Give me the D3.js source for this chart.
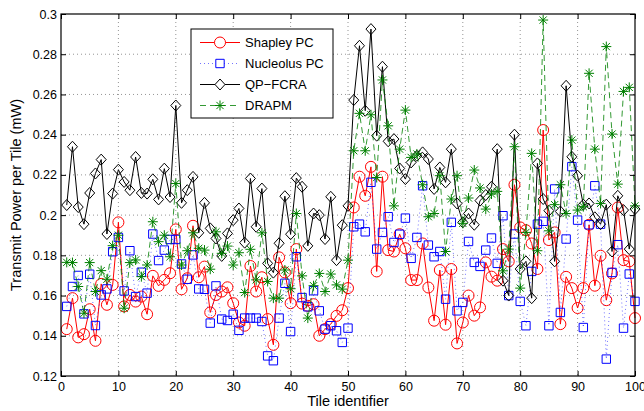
<!DOCTYPE html>
<html>
<head>
<meta charset="utf-8">
<script src="https://cdn.jsdelivr.net/npm/d3@7"></script>
<style>
  body { margin: 0; background: #fff; }
  svg { display: block; font-family: "Liberation Sans", Arial, sans-serif; }
</style>
</head>
<body>
<div class="Chart"></div>
<script>
// values, tile 1..100
var shapley = [
	0.1433, 0.1587, 0.1392, 0.1408, 0.1532, 0.1375, 0.1658, 0.1554, 0.1653, 0.1964,
	0.1546, 0.1603, 0.1570, 0.1595, 0.1507, 0.1698, 0.1648, 0.1678, 0.1711, 0.1929,
	0.1631, 0.1686, 0.1947, 0.1691, 0.1744, 0.1516, 0.1603, 0.1620, 0.1641, 0.1562,
	0.1466, 0.1450, 0.1747, 0.1620, 0.1691, 0.1483, 0.1355, 0.1790, 0.1715, 0.1562,
	0.1831, 0.1560, 0.1549, 0.1557, 0.1400, 0.1433, 0.1458, 0.1499, 0.1527, 0.1637,
	0.2038, 0.2191, 0.2096, 0.2240, 0.1720, 0.2191, 0.1826, 0.1819, 0.1905, 0.1835,
	0.1677, 0.1677, 0.1859, 0.1640, 0.1475, 0.1727, 0.1455, 0.1732, 0.1362, 0.1466,
	0.1600, 0.1500, 0.1541, 0.1765, 0.1694, 0.1674, 0.1831, 0.1770, 0.2151, 0.1939,
	0.1925, 0.1859, 0.1732, 0.2423, 0.1876, 0.1914, 0.1458, 0.1693, 0.1637, 0.1538,
	0.1637, 0.1952, 0.1649, 0.1798, 0.1577, 0.1710, 0.2038, 0.1776, 0.1770, 0.1488
];
var nucleolus = [
	0.1546, 0.1645, 0.1700, 0.1509, 0.1706, 0.1451, 0.1603, 0.1633, 0.1818, 0.1889,
	0.1623, 0.1823, 0.1595, 0.1716, 0.1612, 0.1906, 0.1774, 0.1826, 0.1879, 0.1879,
	0.1757, 0.1681, 0.1802, 0.1633, 0.1631, 0.1463, 0.1648, 0.1483, 0.1476, 0.1507,
	0.1427, 0.1488, 0.1488, 0.1488, 0.1471, 0.1300, 0.1276, 0.1488, 0.1661, 0.1421,
	0.1793, 0.1590, 0.1544, 0.1624, 0.1524, 0.1433, 0.1450, 0.1425, 0.1367, 0.1438,
	0.1942, 0.1955, 0.1917, 0.2163, 0.1831, 0.1914, 0.1992, 0.1864, 0.1905, 0.1985,
	0.1785, 0.1889, 0.2146, 0.1851, 0.1793, 0.1819, 0.1582, 0.1964, 0.1524, 0.1566,
	0.1869, 0.1765, 0.1745, 0.1826, 0.1886, 0.1760, 0.1997, 0.1600, 0.1906, 0.1571,
	0.1450, 0.1720, 0.1955, 0.1969, 0.1450, 0.2130, 0.1516, 0.1881, 0.2241, 0.1975,
	0.1441, 0.1952, 0.2146, 0.1955, 0.1284, 0.1715, 0.1853, 0.1438, 0.1707, 0.1571
];
var qpFcra = [
	0.2050, 0.2340, 0.2040, 0.1955, 0.2110, 0.2207, 0.2276, 0.1906, 0.2107, 0.2226,
	0.2165, 0.2124, 0.2289, 0.2110, 0.2107, 0.2178, 0.2078, 0.2231, 0.2090, 0.2545,
	0.2061, 0.2124, 0.2190, 0.1912, 0.2061, 0.1934, 0.1884, 0.1797, 0.1909, 0.1975,
	0.2033, 0.1863, 0.2182, 0.1942, 0.2132, 0.1760, 0.1714, 0.1860, 0.2094, 0.1905,
	0.2184, 0.2141, 0.1847, 0.2008, 0.2000, 0.1881, 0.2091, 0.1776, 0.1950, 0.2046,
	0.2572, 0.2842, 0.2519, 0.2925, 0.2395, 0.2738, 0.2367, 0.2378, 0.2232, 0.2179,
	0.2262, 0.2295, 0.2312, 0.2279, 0.2130, 0.2237, 0.2163, 0.2328, 0.2058, 0.1964,
	0.2008, 0.1952, 0.2072, 0.2100, 0.2141, 0.2328, 0.1674, 0.1600, 0.2400, 0.1732,
	0.1770, 0.1587, 0.2257, 0.2080, 0.2022, 0.1770, 0.2018, 0.2643, 0.2290, 0.2196,
	0.2052, 0.2058, 0.1989, 0.1955, 0.2052, 0.1819, 0.2096, 0.2025, 0.1831, 0.2030
];
var drapm = [
	0.1765, 0.1764, 0.1645, 0.1512, 0.1764, 0.1620, 0.1724, 0.1681, 0.1848, 0.1900,
	0.1537, 0.1764, 0.1777, 0.1694, 0.1752, 0.1967, 0.1868, 0.1900, 0.1793, 0.2157,
	0.1752, 0.1823, 0.1912, 0.1835, 0.1826, 0.1731, 0.1917, 0.1810, 0.1846, 0.1752,
	0.1813, 0.1615, 0.1830, 0.1678, 0.1912, 0.1670, 0.1587, 0.1587, 0.1727, 0.1634,
	0.2008, 0.1698, 0.1488, 0.1649, 0.1710, 0.1620, 0.1707, 0.1653, 0.1632, 0.1776,
	0.2320, 0.2506, 0.2320, 0.2499, 0.2187, 0.2672, 0.2444, 0.2046, 0.2328, 0.2522,
	0.2287, 0.2304, 0.2151, 0.1992, 0.2008, 0.2196, 0.1819, 0.2080, 0.2196, 0.1959,
	0.2085, 0.2224, 0.2135, 0.2030, 0.2105, 0.2118, 0.1723, 0.1831, 0.2340, 0.1637,
	0.1914, 0.2307, 0.1823, 0.2970, 0.1922, 0.2052, 0.2151, 0.2008, 0.2373, 0.2025,
	0.2042, 0.2705, 0.2328, 0.2058, 0.2838, 0.2403, 0.2154, 0.2615, 0.2635, 0.2046
];
var seriesNames = ["Shapley PC", "Nucleolus PC", "QP\u2212FCRA", "DRAPM"];
var xLabel = "Tile identifier";
var yLabel = "Transmit Power per Tile (mW)";

var width = 644, height = 411,
	margin = {top: 14, right: 9, bottom: 35, left: 61};

var x = d3.scaleLinear().domain([0, 100]).range([margin.left, width - margin.right]);
var y = d3.scaleLinear().domain([0.12, 0.3]).range([height - margin.bottom, margin.top]);

var svg = d3.select('.Chart').append('svg')
	.attr('width', width)
	.attr('height', height);

//dotted grid
var xTicks = x.ticks(10), yTicks = y.ticks(10);
svg.append('g').selectAll('line')
	.data(xTicks.slice(1, -1))
	.enter().append('line')
	.attr('x1', function(d) { return x(d); })
	.attr('x2', function(d) { return x(d); })
	.attr('y1', margin.top)
	.attr('y2', height - margin.bottom)
	.style('stroke', '#7a7a7a')
	.style('stroke-width', 0.8)
	.style('stroke-dasharray', '1,3');
svg.append('g').selectAll('line')
	.data(yTicks.slice(1, -1))
	.enter().append('line')
	.attr('x1', margin.left)
	.attr('x2', width - margin.right)
	.attr('y1', function(d) { return y(d); })
	.attr('y2', function(d) { return y(d); })
	.style('stroke', '#7a7a7a')
	.style('stroke-width', 0.8)
	.style('stroke-dasharray', '1,3');

//series
var series = [
	{name: seriesNames[0], values: shapley, color: '#ff0000', dash: null, marker: 'circle', lineOpacity: 1},
	{name: seriesNames[1], values: nucleolus, color: '#0000ff', dash: '1,3', marker: 'square', lineOpacity: 0.55},
	{name: seriesNames[2], values: qpFcra, color: '#000000', dash: null, marker: 'diamond', lineOpacity: 1},
	{name: seriesNames[3], values: drapm, color: '#008000', dash: '6,4', marker: 'star', lineOpacity: 0.8}
];

function markerPath(type) {
	if (type === 'circle') return 'M5.5,0A5.5,5.5,0,1,1,-5.5,0A5.5,5.5,0,1,1,5.5,0Z';
	if (type === 'square') return 'M-4.2,-4.2H4.2V4.2H-4.2Z';
	if (type === 'diamond') return 'M0,-5.5L5,0L0,5.5L-5,0Z';
	return 'M-5,0H5M0,-5V5M-3.6,-3.6L3.6,3.6M-3.6,3.6L3.6,-3.6';
}

var line = d3.line()
	.x(function(d, i) { return x(i + 1); })
	.y(function(d) { return y(d); });

var plot = svg.append('g');
series.forEach(function(s) {
	var g = plot.append('g');
	g.append('path')
		.datum(s.values)
		.attr('d', line)
		.style('fill', 'none')
		.style('stroke', s.color)
		.style('stroke-opacity', s.lineOpacity)
		.style('stroke-width', 1)
		.style('stroke-dasharray', s.dash);
	g.selectAll('.mk')
		.data(s.values)
		.enter().append('path')
		.attr('transform', function(d, i) { return 'translate(' + x(i + 1) + ',' + y(d) + ')'; })
		.attr('d', markerPath(s.marker))
		.style('fill', 'none')
		.style('stroke', s.color)
		.style('stroke-width', 1);
});

//axes, ticks point inwards
var fmt = function(d) { return String(+d.toFixed(2)); };
var plotH = height - margin.bottom - margin.top, plotW = width - margin.right - margin.left;
svg.append('g')
	.attr('transform', 'translate(0,' + (height - margin.bottom) + ')')
	.call(d3.axisBottom(x).ticks(10).tickSizeInner(-5).tickSizeOuter(0).tickPadding(6));
svg.append('g')
	.attr('transform', 'translate(0,' + margin.top + ')')
	.call(d3.axisTop(x).ticks(10).tickSizeInner(-5).tickSizeOuter(0).tickFormat(''));
svg.append('g')
	.attr('transform', 'translate(' + margin.left + ',0)')
	.call(d3.axisLeft(y).ticks(10).tickSizeInner(-5).tickSizeOuter(0).tickPadding(4).tickFormat(fmt));
svg.append('g')
	.attr('transform', 'translate(' + (width - margin.right) + ',0)')
	.call(d3.axisRight(y).ticks(10).tickSizeInner(-5).tickSizeOuter(0).tickFormat(''));
svg.selectAll('.domain').remove();
svg.selectAll('.tick line').style('stroke', '#000');
svg.selectAll('.tick text')
	.style('font-size', '12.5px')
	.style('font-family', '"Liberation Sans", Arial, sans-serif')
	.style('fill', '#000');

svg.append('rect')
	.attr('x', margin.left)
	.attr('y', margin.top)
	.attr('width', plotW)
	.attr('height', plotH)
	.style('fill', 'none')
	.style('stroke', '#000')
	.style('stroke-width', 1.2);

//axis labels
svg.append('text')
	.attr('x', x(50))
	.attr('y', 406)
	.attr('text-anchor', 'middle')
	.style('font-size', '14.5px')
	.text(xLabel);
svg.append('text')
	.attr('transform', 'translate(21,' + y(0.21) + ') rotate(-90)')
	.attr('text-anchor', 'middle')
	.style('font-size', '14.5px')
	.text(yLabel);

//legend
var legend = svg.append('g').attr('transform', 'translate(191,29)');
legend.append('rect')
	.attr('width', 142)
	.attr('height', 89)
	.style('fill', '#fff')
	.style('stroke', '#000')
	.style('stroke-width', 1);
var rows = legend.selectAll('.row')
	.data(series)
	.enter().append('g')
	.attr('transform', function(d, i) { return 'translate(0,' + (13.5 + i * 21) + ')'; });
rows.append('line')
	.attr('x1', 9).attr('x2', 49)
	.style('stroke', function(d) { return d.color; })
	.style('stroke-opacity', function(d) { return d.lineOpacity; })
	.style('stroke-dasharray', function(d) { return d.dash; });
rows.append('path')
	.attr('transform', 'translate(29,0)')
	.attr('d', function(d) { return markerPath(d.marker); })
	.style('fill', '#fff')
	.style('stroke', function(d) { return d.color; });
rows.append('text')
	.attr('x', 54)
	.attr('dy', '0.36em')
	.style('font-size', '13px')
	.text(function(d) { return d.name; });
</script>
</body>
</html>
